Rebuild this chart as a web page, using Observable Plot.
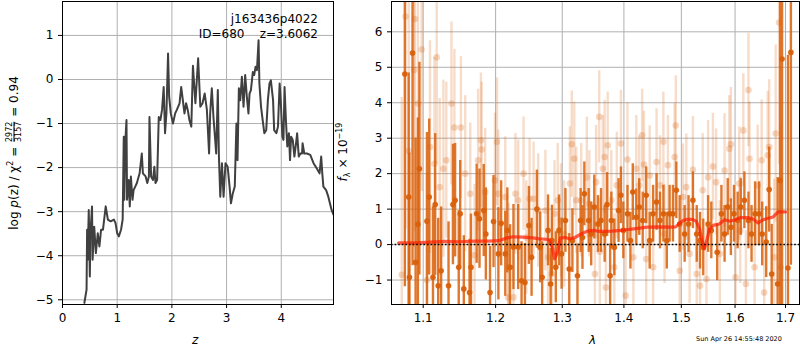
<!DOCTYPE html>
<html><head><meta charset="utf-8">
<script src="https://cdn.jsdelivr.net/npm/d3@7"></script>
<script src="https://cdn.jsdelivr.net/npm/@observablehq/plot@0.6"></script>
<style>
body{margin:0;background:#fff;}
#wrap{position:relative;width:800px;height:350px;overflow:hidden;font-family:"DejaVu Sans",sans-serif;color:#000;}
#left,#right{position:absolute;top:0;}
#left{left:0px;}
#right{left:340px;}
.lab{position:absolute;white-space:nowrap;font-size:12px;line-height:14px;}
.rot{position:absolute;width:0;height:0;}
.rot>div{position:absolute;left:0;top:0;transform:translate(-50%,-50%) rotate(-90deg);white-space:nowrap;font-size:12px;line-height:14px;}
.frac{display:inline-flex;flex-direction:column;vertical-align:middle;font-size:8px;line-height:8px;text-align:center;margin:0 1px;}
.frac span:first-child{border-bottom:0.8px solid #000;}
sup{font-size:8px;vertical-align:5px;}
sub{font-size:8px;vertical-align:-3px;}
</style>
</head><body>
<div id="wrap">
  <div id="left"></div>
  <div id="right"></div>
  <div class="lab" style="right:482px;top:12px;">j163436p4022</div>
  <div class="lab" style="right:482px;top:27px;">ID=680&nbsp;&nbsp;&nbsp;&nbsp;z=3.6062</div>
  <div class="lab" style="left:192px;top:333px;font-style:italic;">z</div>
  <div class="lab" style="left:589px;top:333px;font-style:italic;">λ</div>
  <div class="lab" style="left:696px;top:335px;font-size:6.5px;line-height:8px;">Sun Apr 26 14:55:48 2020</div>
  <div class="rot" style="left:13px;top:153px;"><div>log <i>p</i>(z) / χ<sup>2</sup> = <span class="frac"><span>2972</span><span>3157</span></span> = 0.94</div></div>
  <div class="rot" style="left:344px;top:152px;"><div><i>f</i><sub>λ</sub> × 10<sup>−19</sup></div></div>
</div>
<script>
// ---- left panel: log p(z) curve [z, log p]
const zTicks = [0, 1, 2, 3, 4];
const pTicks = [-5, -4, -3, -2, -1, 0, 1];
const pzCurve = [
[0.40,-5.07],[0.44,-4.77],[0.45,-3.41],[0.46,-4.09],[0.48,-2.96],[0.50,-4.47],[0.51,-3.49],[0.54,-2.88],
[0.55,-4.09],[0.58,-3.34],[0.61,-3.94],[0.645,-3.49],[0.675,-3.79],[0.705,-3.41],[0.74,-3.41],[0.79,-2.88],
[0.83,-3.18],[0.88,-3.22],[0.94,-3.18],[0.97,-3.26],[1.00,-3.49],[1.03,-3.56],[1.07,-3.41],[1.10,-3.18],
[1.12,-1.30],[1.13,-2.73],[1.15,-1.37],[1.17,-0.92],[1.18,-2.73],[1.21,-2.28],[1.23,-2.88],[1.25,-2.20],
[1.28,-2.73],[1.30,-2.51],[1.33,-2.43],[1.36,-2.35],[1.41,-2.13],[1.45,-1.68],[1.47,-2.13],[1.52,-2.20],
[1.55,-2.35],[1.58,-2.20],[1.59,-0.85],[1.62,-2.20],[1.655,-2.28],[1.68,-1.98],[1.70,-2.35],[1.73,-2.28],
[1.76,-0.85],[1.79,-0.92],[1.82,-0.69],[1.85,-0.17],[1.875,-1.22],[1.90,-0.77],[1.93,0.59],[1.95,-0.39],
[1.98,-0.77],[2.02,-1.00],[2.06,-0.77],[2.09,-0.69],[2.14,-0.54],[2.17,-0.17],[2.20,-0.47],[2.23,-0.77],
[2.26,-0.54],[2.29,-0.69],[2.32,-0.92],[2.355,-1.07],[2.385,0.31],[2.43,-0.54],[2.48,0.48],[2.52,-0.62],
[2.56,-0.54],[2.60,-0.32],[2.64,-0.69],[2.68,-1.68],[2.70,-0.77],[2.73,-0.20],[2.76,-0.85],[2.81,-1.68],
[2.84,-0.24],[2.86,-1.75],[2.885,-2.66],[2.915,-1.90],[2.945,-2.66],[2.98,-1.90],[3.02,-1.98],[3.055,-2.43],
[3.08,-2.81],[3.115,-2.58],[3.15,-2.43],[3.18,-1.00],[3.20,-1.83],[3.225,-0.20],[3.25,-0.47],[3.28,0.06],
[3.31,-0.62],[3.34,0.10],[3.37,-0.39],[3.40,-0.77],[3.42,-0.32],[3.445,-0.24],[3.48,0.17],[3.505,0.10],
[3.53,0.29],[3.555,0.21],[3.585,0.89],[3.60,-0.09],[3.63,-0.62],[3.66,-0.92],[3.69,-1.22],[3.725,-1.15],
[3.755,-0.47],[3.785,-0.09],[3.81,-0.02],[3.85,-0.47],[3.87,-1.15],[3.91,-1.22],[3.94,-1.07],[3.97,-0.09],
[3.99,-0.47],[4.02,-1.30],[4.04,-1.37],[4.06,-0.17],[4.085,-0.92],[4.11,-1.52],[4.14,-1.22],[4.16,-1.83],
[4.18,-1.30],[4.21,-1.37],[4.24,-1.75],[4.27,-1.45],[4.29,-1.22],[4.32,-1.75],[4.35,-1.68],[4.38,-1.68],
[4.39,-1.45],[4.42,-1.68],[4.47,-1.68],[4.53,-1.71],[4.59,-1.90],[4.65,-2.02],[4.70,-2.13],[4.73,-1.75],
[4.75,-2.13],[4.77,-2.43],[4.82,-2.51],[4.86,-2.66],[4.92,-2.96],[4.955,-3.07]
];

// ---- right panel: spectrum [lambda, flux, error]
const lamTicks = [1.1, 1.2, 1.3, 1.4, 1.5, 1.6, 1.7];
const fTicks = [-1, 0, 1, 2, 3, 4, 5, 6];
const darkPts = [
[1.076,4.81,6],[1.081,1.34,3.5],[1.082,-0.92,3.5],[1.086,5.4,6],[1.090,-0.5,3.5],[1.093,0.57,3],[1.095,2.14,3],
[1.105,0.66,2.5],[1.108,1.34,2.2],[1.113,-0.92,2.0],[1.116,1.13,2.0],[1.120,-1.16,1.9],[1.124,-0.74,1.8],[1.134,-1.16,1.8],
[1.140,1.13,1.7],[1.143,1.25,1.6],[1.148,-0.64,1.6],[1.150,0.87,1.5],[1.155,-1.25,1.5],[1.163,-1.35,1.5],[1.165,-0.64,1.5],
[1.173,0.87,1.4],[1.177,0.73,1.4],[1.183,0.96,1.3],[1.186,0.3,1.3],[1.192,-1.35,1.3],[1.197,0.65,1.3],
[1.204,-0.26,1.3],[1.208,0.6,1.2],[1.214,-0.26,1.2],[1.217,0.4,1.2],[1.221,-0.64,1.2],[1.226,-0.07,1.2],[1.233,-0.07,1.2],
[1.238,-1.02,1.1],[1.243,-1.07,1.1],[1.249,0.54,1.1],[1.253,-0.36,1.1],[1.261,1.0,1.1],[1.266,-0.08,1.0],[1.269,-0.92,1.0],
[1.278,0.4,1.0],[1.282,-1.11,1.0],[1.284,0.11,1.0],[1.290,-0.64,1.0],[1.295,0.4,1.0],[1.299,-0.26,1.0],
[1.305,0.68,0.9],[1.311,-0.69,1.0],[1.316,0.11,0.9],[1.324,-0.88,0.9],[1.329,0.68,0.9],[1.332,0.2,0.9],[1.335,1.43,0.9],
[1.342,0.68,0.9],[1.346,0.3,0.9],[1.351,1.06,0.9],[1.357,0.58,0.8],[1.362,0.68,0.9],[1.368,0.3,0.8],[1.372,1.13,0.9],
[1.377,-0.88,0.9],[1.379,0.68,0.8],[1.384,-0.08,0.8],[1.391,0.96,0.9],[1.395,1.39,0.8],[1.399,0.4,0.8],[1.406,0.87,0.8],
[1.411,0.11,0.8],[1.415,1.48,0.8],[1.421,0.77,0.8],[1.426,1.06,0.8],[1.432,0.68,0.8],[1.438,1.39,0.8],[1.444,0.11,0.8],
[1.450,0.87,0.8],[1.456,1.2,0.8],[1.462,0.68,0.8],[1.468,0.87,0.8],[1.474,0.11,0.8],[1.479,0.87,0.8],[1.485,0.87,0.8],
[1.491,1.53,0.8],[1.497,0.58,0.8],[1.506,0.3,0.8],[1.513,0.58,0.8],[1.521,1.25,0.8],[1.528,0.3,0.8],[1.534,0.11,0.8],
[1.540,-0.08,0.8],[1.549,0.58,0.8],[1.555,0.4,0.8],[1.566,-0.22,0.8],[1.574,0.87,0.8],[1.580,0.3,0.8],[1.586,1.06,0.8],
[1.592,0.49,0.8],[1.598,0.87,0.8],[1.605,0.68,0.8],[1.611,1.06,0.8],[1.618,1.25,0.8],[1.626,0.68,0.8],[1.632,0.3,0.8],
[1.639,0.87,0.9],[1.647,0.87,0.9],[1.653,0.3,0.9],[1.661,0.07,1.0],[1.667,1.55,1.2],[1.672,-0.83,1.4],[1.684,-1.11,3],
[1.689,1.81,6],[1.693,5.23,8],[1.705,-0.66,6],[1.711,5.42,6]
];
const lightPts = [
[1.072,-0.85,5],[1.077,6.43,6],[1.081,2.64,5],[1.088,4.92,5],[1.089,6.36,6],[1.093,3.98,4],[1.098,5.5,4],
[1.105,-1.0,3],[1.109,2.75,3],[1.115,2.28,3],[1.118,5.28,3],[1.122,1.62,2.5],[1.127,2.14,2.5],[1.131,2.38,2.2],
[1.138,3.98,2.3],[1.142,3.3,2.2],[1.151,3.3,2.0],[1.157,2.0,2.2],[1.164,1.43,2.0],[1.170,-0.3,2.0],[1.175,2.38,2.0],
[1.179,2.94,1.9],[1.180,2.68,1.9],[1.185,1.48,1.8],[1.199,1.81,1.9],[1.202,2.9,1.8],[1.204,1.43,1.8],[1.214,1.34,1.7],
[1.218,-1.49,1.7],[1.219,-0.64,1.8],[1.226,-1.49,1.6],[1.229,1.43,1.7],[1.233,1.25,1.7],[1.241,2.0,1.6],[1.245,0.2,1.6],
[1.250,1.29,1.7],[1.256,1.29,1.6],[1.263,0.96,1.6],[1.274,0.96,1.7],[1.278,-0.36,1.6],[1.284,-0.83,1.6],[1.288,0.87,1.5],
[1.293,1.25,1.6],[1.298,0.68,1.6],[1.303,0.3,1.5],[1.312,1.72,1.6],[1.315,2.83,1.5],[1.319,2.42,1.6],[1.322,1.25,1.5],
[1.330,1.25,1.6],[1.339,1.89,1.7],[1.343,1.15,1.5],[1.352,-0.83,1.5],[1.354,1.76,1.6],[1.359,3.6,1.3],[1.360,-0.2,1.5],
[1.365,2.14,1.5],[1.368,2.47,1.6],[1.370,-1.21,1.5],[1.373,2.8,1.5],[1.379,1.25,1.4],[1.384,-0.64,1.5],[1.388,1.67,1.5],
[1.395,2.85,1.5],[1.403,-1.44,1.4],[1.406,2.4,1.6],[1.416,-0.36,1.4],[1.421,2.14,1.5],[1.426,1.67,1.4],[1.431,3.08,1.3],
[1.434,2.26,1.5],[1.438,-0.41,1.4],[1.444,1.95,1.4],[1.450,-0.64,1.4],[1.456,2.33,1.5],[1.462,1.67,1.4],[1.468,2.9,1.4],
[1.470,0.3,1.4],[1.476,2.24,1.4],[1.488,2.47,1.5],[1.490,3.36,1.4],[1.497,-0.74,1.4],[1.503,1.34,1.5],[1.509,1.62,1.5],
[1.515,-0.26,1.4],[1.521,2.11,1.5],[1.528,-0.83,1.5],[1.534,-1.16,1.4],[1.539,1.53,1.6],[1.546,-0.97,1.5],[1.549,1.9,1.6],
[1.558,2.2,1.5],[1.564,1.76,1.5],[1.571,-0.26,1.5],[1.580,2.09,1.6],[1.589,2.7,1.5],[1.592,2.83,1.6],[1.601,-0.92,1.5],
[1.608,1.72,1.6],[1.610,0.4,1.5],[1.616,3.22,1.6],[1.621,-1.11,1.5],[1.626,4.36,1.6],[1.628,2.42,1.6],[1.638,-0.64,1.6],
[1.644,1.67,1.7],[1.652,2.38,1.7],[1.657,-1.35,1.7],[1.664,2.52,1.8],[1.667,2.75,1.9],[1.677,-0.36,2.2],[1.680,3.13,2.5],
[1.687,6.26,4],[1.690,-0.64,4]
];
const modelLine = [
[1.068,0.05],[1.09,0.05],[1.11,0.07],[1.13,0.09],[1.15,0.08],[1.17,0.1],[1.19,0.1],[1.205,0.11],[1.215,0.18],
[1.225,0.22],[1.24,0.21],[1.255,0.19],[1.265,0.16],[1.275,0.15],[1.28,0.13],[1.285,-0.1],[1.288,-0.4],[1.293,-0.2],
[1.297,0.18],[1.305,0.2],[1.312,0.16],[1.32,0.2],[1.33,0.3],[1.34,0.38],[1.35,0.4],[1.36,0.37],[1.38,0.38],[1.40,0.41],
[1.42,0.45],[1.44,0.49],[1.46,0.5],[1.48,0.49],[1.49,0.5],[1.497,0.6],[1.503,0.68],[1.51,0.71],[1.52,0.71],[1.527,0.66],
[1.533,0.45],[1.538,0.1],[1.542,-0.12],[1.547,0.15],[1.552,0.45],[1.56,0.55],[1.57,0.58],[1.58,0.7],[1.59,0.66],
[1.60,0.7],[1.61,0.76],[1.625,0.76],[1.635,0.72],[1.645,0.61],[1.655,0.7],[1.665,0.74],[1.675,0.78],[1.685,0.92],[1.70,0.92]
];

const fmt = d => String(d).replace("-", "\u2212");
const gridStyle = {stroke: "#b0b0b0", strokeOpacity: 1, strokeWidth: 1};
const font = {fontFamily: "DejaVu Sans", fontSize: "12px", background: "transparent", overflow: "visible"};

const leftPlot = Plot.plot({
  width: 340, height: 350, marginLeft: 62, marginRight: 7, marginTop: 1, marginBottom: 46,
  style: font,
  x: {domain: [0, 4.955]},
  y: {domain: [-5.107, 1.77]},
  marks: [
    Plot.gridX(zTicks, gridStyle),
    Plot.gridY(pTicks, gridStyle),
    Plot.line(pzCurve, {x: d => d[0], y: d => d[1], stroke: "#404040", strokeWidth: 2, clip: true}),
    Plot.frame({stroke: "#000", strokeWidth: 1}),
    Plot.axisX(zTicks, {tickSize: 4, tickPadding: 5, tickFormat: fmt, label: null}),
    Plot.axisY(pTicks, {tickSize: 4, tickPadding: 5, tickFormat: fmt, label: null})
  ]
});
document.getElementById("left").appendChild(leftPlot);

const orange = "#d9600a";
const rightPlot = Plot.plot({
  width: 460, height: 350, marginLeft: 51, marginRight: 1, marginTop: 1, marginBottom: 46,
  style: font,
  x: {type: "log", domain: [1.0589, 1.7288]},
  y: {domain: [-1.69, 6.855]},
  marks: [
    Plot.gridX(lamTicks, gridStyle),
    Plot.gridY(fTicks, gridStyle),
    Plot.ruleX(lightPts, {x: d => d[0], y1: d => d[1] - d[2], y2: d => d[1] + d[2], stroke: orange, strokeOpacity: 0.22, strokeWidth: 2.4, clip: true}),
    Plot.dot(lightPts, {x: d => d[0], y: d => d[1], r: 3.3, fill: orange, fillOpacity: 0.25, stroke: "none", clip: true}),
    Plot.ruleX(darkPts, {x: d => d[0], y1: d => d[1] - d[2], y2: d => d[1] + d[2], stroke: orange, strokeOpacity: 0.85, strokeWidth: 2.4, clip: true}),
    Plot.dot(darkPts, {x: d => d[0], y: d => d[1], r: 2.8, fill: orange, fillOpacity: 0.95, stroke: "none", clip: true}),
    Plot.line(modelLine, {x: d => d[0], y: d => d[1], stroke: "#ff1a00", strokeOpacity: 0.7, strokeWidth: 3.2, clip: true}),
    Plot.ruleY([0], {stroke: "#000", strokeWidth: 1.6, strokeDasharray: "1.6,2"}),
    Plot.frame({stroke: "#000", strokeWidth: 1}),
    Plot.axisX(lamTicks, {tickSize: 4, tickPadding: 5, tickFormat: d => d.toFixed(1), label: null}),
    Plot.axisY(fTicks, {tickSize: 4, tickPadding: 5, tickFormat: fmt, label: null})
  ]
});
document.getElementById("right").appendChild(rightPlot);
</script>
</body></html>
